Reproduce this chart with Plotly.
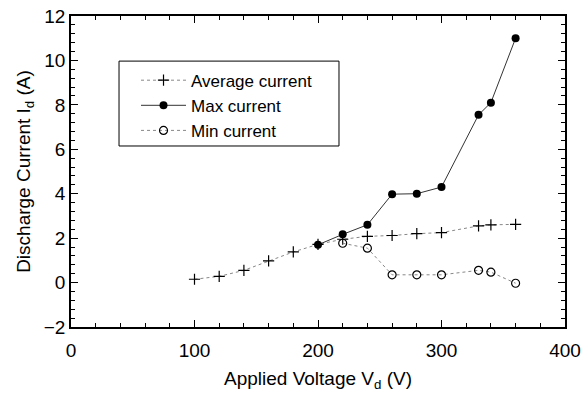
import plotly.graph_objects as go

avg_v = [100, 120, 140, 160, 180, 200, 220, 240, 260, 280, 300, 330, 340, 360]
avg_i = [0.15, 0.28, 0.55, 0.98, 1.38, 1.72, 1.95, 2.08, 2.12, 2.2, 2.25, 2.55, 2.6, 2.62]

max_v = [200, 220, 240, 260, 280, 300, 330, 340, 360]
max_i = [1.7, 2.17, 2.6, 3.98, 4.0, 4.3, 7.55, 8.1, 11.0]

min_v = [220, 240, 260, 280, 300, 330, 340, 360]
min_i = [1.77, 1.55, 0.35, 0.35, 0.35, 0.55, 0.47, -0.03]

font = "Liberation Sans, Arial, sans-serif"

fig = go.Figure()
fig.add_trace(go.Scatter(
    x=avg_v, y=avg_i, name="Average current", mode="lines+markers",
    line=dict(color="#888888", width=1, dash="dot"),
    marker=dict(symbol="cross-thin", size=8, line=dict(color="black", width=1.2), color="black"),
))
fig.add_trace(go.Scatter(
    x=max_v, y=max_i, name="Max current", mode="lines+markers",
    line=dict(color="#333333", width=1),
    marker=dict(symbol="circle", size=8, color="black"),
))
fig.add_trace(go.Scatter(
    x=min_v, y=min_i, name="Min current", mode="lines+markers",
    line=dict(color="#888888", width=1, dash="dot"),
    marker=dict(symbol="circle-open", size=8, color="black", line=dict(width=1.2)),
))

axis_common = dict(
    showline=True, linecolor="black", linewidth=1.5, mirror="ticks",
    ticks="inside", ticklen=7, tickwidth=1.2, tickcolor="black",
    showgrid=False, zeroline=False, automargin=False,
    tickfont=dict(family=font, size=19, color="black"),
)

fig.update_xaxes(
    range=[0, 400], dtick=100, ticklabelstandoff=5,
    title=dict(text="Applied Voltage V<sub>d</sub> (V)",
               font=dict(family=font, size=19, color="black"), standoff=12),
    minor=dict(dtick=20, ticks="inside", ticklen=4, tickcolor="black"),
    **axis_common,
)
fig.update_yaxes(
    range=[-2, 12], dtick=2,
    title=dict(text="Discharge Current I<sub>d</sub> (A)",
               font=dict(family=font, size=19, color="black"), standoff=8),
    minor=dict(dtick=0.4, ticks="inside", ticklen=4, tickcolor="black"),
    **axis_common,
)

# legend frame drawn as a paper-space rectangle
fig.add_shape(type="rect", xref="paper", yref="paper",
              x0=0.0972, x1=0.5425, y0=0.582, y1=0.855,
              line=dict(color="black", width=1), fillcolor="rgba(0,0,0,0)", layer="above")

fig.update_layout(
    width=582, height=394,
    margin=dict(l=71, r=17, t=16, b=67),
    plot_bgcolor="white", paper_bgcolor="white",
    showlegend=True,
    legend=dict(x=0.1316, y=0.85, xanchor="left", yanchor="top",
                borderwidth=0, bgcolor="rgba(0,0,0,0)",
                font=dict(family=font, size=17, color="black"),
                tracegroupgap=0, itemwidth=45),
)

fig.write_html("out.html")
